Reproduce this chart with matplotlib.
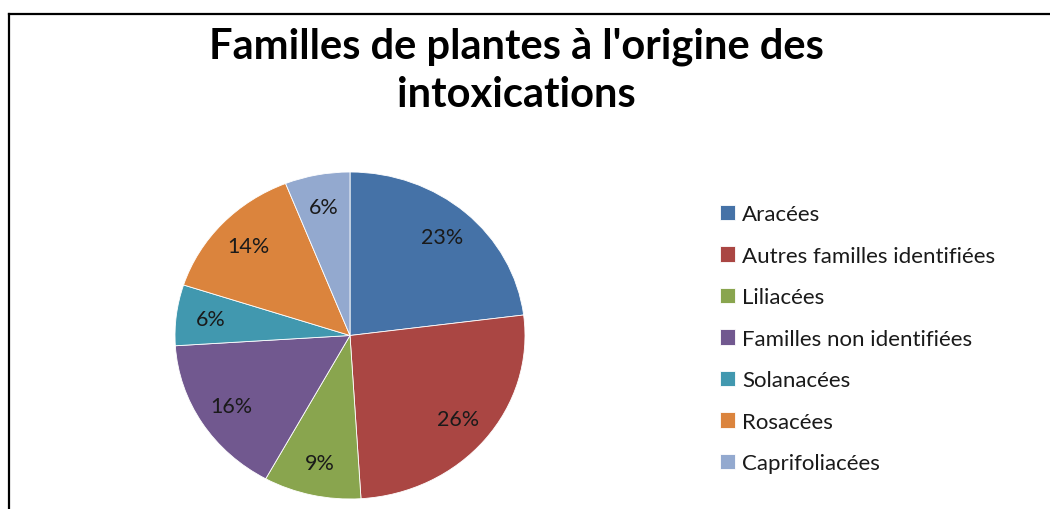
import matplotlib
matplotlib.use("Agg")
import matplotlib.pyplot as plt
from matplotlib.lines import Line2D

categories = ["Aracées", "Autres familles identifiées", "Liliacées",
              "Familles non identifiées", "Solanacées", "Rosacées", "Caprifoliacées"]
values = [23, 26, 9, 16, 6, 14, 6]
colors = ["#4572A7", "#AA4643", "#89A54E", "#71588F", "#4198AF", "#DB843D", "#93A9CF"]
title = "Familles de plantes à l'origine des\nintoxications"

plt.rcParams['font.family'] = ['Lato', 'DejaVu Sans']

W, H = 1050, 510
fig = plt.figure(figsize=(W / 100, H / 100), dpi=100)

# Pie axes (slightly elliptical like the original)
ax = fig.add_axes([175 / W, (H - 500) / H, 350 / W, 327 / H])
wedges, texts, autotexts = ax.pie(
    values, colors=colors, startangle=90, counterclock=False,
    autopct=lambda p: f"{p:.0f}%", pctdistance=0.8,
    wedgeprops=dict(edgecolor="white", linewidth=0.6),
    textprops=dict(fontsize=15.5, color="#1a1a1a"))
ax.set_aspect('auto')
ax.set_xlim(-1, 1)
ax.set_ylim(-1, 1)

fig.text(516 / W, 1 - 71 / H, title, ha="center", va="center",
         fontsize=30, fontweight="bold", linespacing=1.32, color="black")

leg = fig.legend(wedges, categories, loc="upper left",
                 bbox_to_anchor=(709 / W, 1 - 194 / H), frameon=False,
                 fontsize=16, handlelength=0.68, handleheight=0.68,
                 handletextpad=0.3, labelspacing=0.97, borderpad=0)
for t in leg.get_texts():
    t.set_color("#1a1a1a")

# Partial border frame (left and top edges)
fig.add_artist(Line2D([9 / W, 9 / W], [0, 1 - 15 / H], transform=fig.transFigure,
                      color="black", linewidth=1.6))
fig.add_artist(Line2D([9 / W, 1], [1 - 15 / H, 1 - 15 / H], transform=fig.transFigure,
                      color="black", linewidth=1.6))

fig.savefig("out.png", dpi=100, facecolor="white")
